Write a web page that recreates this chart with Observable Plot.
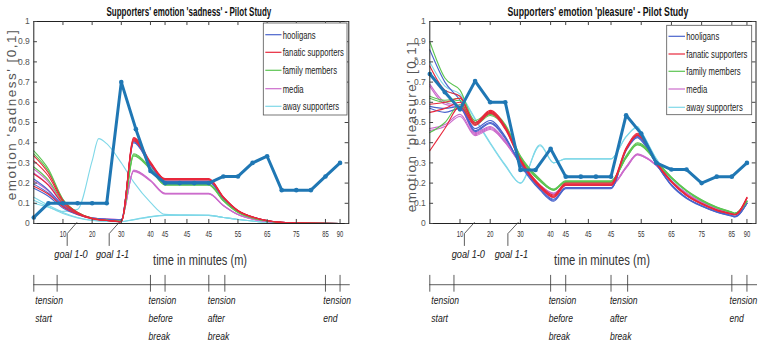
<!DOCTYPE html>
<html><head><meta charset="utf-8">
<script src="https://cdn.jsdelivr.net/npm/d3@7"></script>
<script src="https://cdn.jsdelivr.net/npm/@observablehq/plot@0.6"></script>
<style>
html,body{margin:0;padding:0;background:#fff}
body{width:760px;height:347px;overflow:hidden;position:relative;font-family:"Liberation Sans",Arial,sans-serif}
.panel{position:absolute;top:0;width:380px;height:347px}
</style></head><body>
<div id="left" class="panel" style="left:0"></div>
<div id="right" class="panel" style="left:380px"></div>
<script>
// ---------------- categories & labels ----------------
const groups = ["hooligans","fanatic supporters","family members","media","away supporters"];
const groupColors = ["#4a64cc","#e8283c","#5cc452","#cc6ccc","#7fd8e8"];
const steps = [0,1,2,3,4,5,6,7,8,9,10,11,12,13,14,15,16,17,18,19,20,21];
const tickIdx = [2,4,6,8,9,10.5,12,14,16,18,20,21];
const tickLabels = ["10","20","30","40","45","45","45","55","65","75","85","90"];
const yTicks = [0,0.1,0.2,0.3,0.4,0.5,0.6,0.7,0.8,0.9,1];
const goalIdx = [2.55,5.4];
const goalLabels = ["goal 1-0","goal 1-1"];
const goalFrom = [2.29,5.17];
const goalTo = [2.95,5.85];
const phaseTicks = [0,1.6,8,9,12,13.1,20,21];
const phaseIdx = [0.1,7.87,11.93,19.85];
const phaseLabels = [["tension","start"],["tension","before","break"],["tension","after","break"],["tension","end"]];
const xLabel = "time in minutes (m)";

// ---------------- sadness panel data ----------------
const sadX = [0,1,2,3,4,4.45,5,6,6.85,8,9,12,13,14,15,16,17,18,21];
const sadSeries = [
  ["away supporters",[0.1,0.08,0.06,0.07,0.31,0.42,0.395,0.3,0.205,0.105,0.045,0.04,0.03,0.02,0.012,0.006,0.003,0.001,0]],
  ["away supporters",[0.13,0.09,0.055,0.03,0.016,0.013,0.011,0.01,0.02,0.034,0.04,0.04,0.03,0.02,0.012,0.006,0.003,0.001,0]],
  ["away supporters",[0.115,0.083,0.05,0.028,0.015,0.012,0.01,0.009,0.018,0.033,0.04,0.04,0.03,0.02,0.012,0.006,0.003,0.001,0]],
  ["media",[0.27,0.205,0.1,0.05,0.027,0.024,0.022,0.02,0.265,0.215,0.15,0.15,0.09,0.045,0.022,0.01,0.004,0.001,0]],
  ["media",[0.25,0.19,0.095,0.048,0.027,0.024,0.022,0.02,0.262,0.212,0.148,0.148,0.089,0.044,0.022,0.01,0.004,0.001,0]],
  ["media",[0.21,0.16,0.087,0.046,0.026,0.023,0.022,0.02,0.258,0.21,0.146,0.146,0.088,0.044,0.021,0.01,0.004,0.001,0]],
  ["hooligans",[0.22,0.165,0.09,0.05,0.028,0.024,0.021,0.017,0.41,0.295,0.21,0.21,0.125,0.062,0.032,0.014,0.006,0.002,0]],
  ["hooligans",[0.195,0.15,0.083,0.046,0.026,0.022,0.02,0.017,0.405,0.29,0.208,0.208,0.124,0.061,0.031,0.014,0.006,0.002,0]],
  ["hooligans",[0.175,0.135,0.076,0.043,0.025,0.021,0.019,0.017,0.4,0.288,0.205,0.205,0.122,0.06,0.03,0.013,0.005,0.002,0]],
  ["family members",[0.36,0.27,0.12,0.056,0.026,0.02,0.016,0.011,0.345,0.275,0.195,0.195,0.115,0.056,0.028,0.012,0.005,0.002,0]],
  ["family members",[0.345,0.26,0.117,0.055,0.026,0.02,0.016,0.011,0.34,0.27,0.192,0.192,0.113,0.055,0.027,0.012,0.005,0.002,0]],
  ["family members",[0.28,0.215,0.105,0.052,0.025,0.02,0.016,0.011,0.335,0.268,0.19,0.19,0.112,0.054,0.027,0.012,0.005,0.002,0]],
  ["fanatic supporters",[0.335,0.25,0.115,0.055,0.026,0.02,0.016,0.009,0.425,0.305,0.222,0.222,0.132,0.065,0.033,0.015,0.006,0.002,0]],
  ["fanatic supporters",[0.31,0.235,0.11,0.053,0.025,0.019,0.015,0.009,0.42,0.3,0.22,0.22,0.13,0.064,0.032,0.015,0.006,0.002,0]],
  ["fanatic supporters",[0.245,0.19,0.098,0.05,0.024,0.019,0.015,0.009,0.415,0.298,0.218,0.218,0.129,0.063,0.032,0.014,0.006,0.002,0]],
  ["fanatic supporters",[0.185,0.145,0.083,0.046,0.023,0.018,0.015,0.009,0.41,0.295,0.216,0.216,0.128,0.062,0.031,0.014,0.006,0.002,0]]
];
const sadBlue = [0.03,0.1,0.1,0.1,0.1,0.1,0.7,0.467,0.26,0.2,0.2,0.2,0.2,0.233,0.233,0.3,0.333,0.165,0.165,0.165,0.233,0.3];

// ---------------- pleasure panel data ----------------
const plX = [0,1,2,3,4,5,6,7.3,8.2,9,12,13,13.75,14,15,16,17,18,19,20,20.2,21];
const plSeries = [
  ["away supporters",[0.8,0.68,0.64,0.52,0.4,0.29,0.2,0.39,0.3,0.32,0.32,0.43,0.48,0.455,0.32,0.215,0.15,0.105,0.072,0.05,0.046,0.11]],
  ["away supporters",[0.75,0.66,0.63,0.515,0.395,0.285,0.2,0.385,0.3,0.32,0.32,0.43,0.475,0.45,0.32,0.215,0.15,0.105,0.072,0.05,0.046,0.11]],
  ["media",[0.69,0.6,0.58,0.45,0.48,0.41,0.3,0.19,0.15,0.19,0.19,0.28,0.345,0.34,0.29,0.21,0.15,0.105,0.072,0.05,0.046,0.1]],
  ["media",[0.68,0.59,0.575,0.445,0.475,0.405,0.3,0.19,0.15,0.19,0.19,0.28,0.343,0.338,0.288,0.21,0.15,0.105,0.072,0.05,0.046,0.1]],
  ["media",[0.47,0.49,0.54,0.44,0.47,0.4,0.295,0.185,0.145,0.188,0.188,0.275,0.34,0.335,0.287,0.208,0.148,0.104,0.071,0.049,0.045,0.1]],
  ["media",[0.46,0.48,0.53,0.435,0.465,0.4,0.295,0.185,0.145,0.188,0.188,0.275,0.34,0.335,0.287,0.208,0.148,0.104,0.071,0.049,0.045,0.1]],
  ["hooligans",[0.86,0.7,0.61,0.47,0.51,0.43,0.29,0.165,0.11,0.172,0.172,0.37,0.435,0.42,0.295,0.188,0.124,0.085,0.056,0.036,0.032,0.1]],
  ["hooligans",[0.58,0.57,0.58,0.46,0.5,0.425,0.295,0.17,0.115,0.175,0.175,0.365,0.43,0.415,0.295,0.19,0.126,0.087,0.057,0.038,0.034,0.1]],
  ["hooligans",[0.57,0.55,0.57,0.455,0.495,0.42,0.3,0.175,0.12,0.178,0.178,0.36,0.425,0.41,0.295,0.192,0.128,0.089,0.059,0.04,0.036,0.1]],
  ["family members",[0.9,0.72,0.66,0.51,0.55,0.49,0.335,0.22,0.17,0.212,0.212,0.335,0.4,0.395,0.31,0.23,0.165,0.118,0.082,0.057,0.052,0.11]],
  ["family members",[0.63,0.61,0.62,0.5,0.545,0.485,0.33,0.215,0.168,0.208,0.208,0.33,0.395,0.39,0.31,0.228,0.163,0.115,0.08,0.055,0.05,0.11]],
  ["family members",[0.62,0.6,0.61,0.5,0.54,0.48,0.325,0.21,0.165,0.205,0.205,0.325,0.39,0.385,0.305,0.225,0.16,0.112,0.078,0.054,0.049,0.11]],
  ["family members",[0.45,0.5,0.59,0.49,0.535,0.475,0.325,0.21,0.165,0.205,0.205,0.325,0.39,0.385,0.305,0.225,0.16,0.112,0.078,0.054,0.049,0.11]],
  ["fanatic supporters",[0.78,0.66,0.63,0.5,0.56,0.48,0.32,0.19,0.14,0.2,0.2,0.375,0.447,0.435,0.305,0.21,0.143,0.1,0.068,0.048,0.045,0.13]],
  ["fanatic supporters",[0.59,0.6,0.62,0.495,0.555,0.475,0.315,0.185,0.135,0.195,0.195,0.37,0.442,0.43,0.3,0.208,0.14,0.098,0.066,0.047,0.044,0.128]],
  ["fanatic supporters",[0.55,0.57,0.6,0.49,0.55,0.47,0.31,0.18,0.13,0.19,0.19,0.365,0.437,0.425,0.3,0.205,0.138,0.096,0.065,0.046,0.043,0.125]],
  ["fanatic supporters",[0.36,0.47,0.58,0.485,0.545,0.465,0.31,0.18,0.13,0.19,0.19,0.365,0.437,0.425,0.3,0.205,0.138,0.096,0.065,0.046,0.043,0.125]]
];
const plBlue = [0.74,0.65,0.565,0.705,0.6,0.6,0.265,0.265,0.37,0.232,0.232,0.232,0.232,0.536,0.445,0.3,0.267,0.267,0.2,0.232,0.232,0.3];

// ---------------- layout (positions / styles only) ----------------
const FONT = "'Liberation Sans', Arial, sans-serif";
const Y_GOAL = -0.153, Y_PTR_LO = -0.109, Y_PTR_HI = -0.05, Y_PTR_END = 0.005;
const Y_XLABEL = -0.183, Y_TL = -0.303, Y_TL_T1 = -0.257, Y_TL_T2 = -0.34;
const Y_PHASE = [-0.381,-0.472,-0.559];
const X_MAX = 21.6, X_TL_END = 21.7;
const MAIN = "#1f77b4";

const panels = [
  {el:"#left", title:"Supporters' emotion 'sadness' - Pilot Study", ylabel:"emotion 'sadness' [0,1]",
   xs:sadX, series:sadSeries, blue:sadBlue, ml:33.3, mr:31.7, yPad:4,
   titleDx:-2.4, titleLen:165, ylabDx:-22.5, ylabDy:-8, ylabLen:170, xlabLen:94,
   legend:{x:263.3, y:23, w:83.7, h:92, lx1:265.3, lx2:281.5, tx:282.7, rows:[34.7,52.3,70.3,88.7,106.3]}},
  {el:"#right", title:"Supporters' emotion 'pleasure' - Pilot Study", ylabel:"emotion 'pleasure' [0,1]",
   xs:plX, series:plSeries, blue:plBlue, ml:49.3, mr:4.5, yPad:4,
   titleDx:5, titleLen:181, ylabDx:-18.5, ylabDy:4, ylabLen:170, xlabLen:96,
   legend:{x:286.7, y:25.3, w:85, h:89.4, lx1:288.5, lx2:305, tx:306.3, rows:[36.3,54,71.3,89,107.3]}}
];

// horizontally compress text around its own anchor point (narrow-font look)
function condense(svg, sel, opt){
  d3.select(svg).selectAll(sel).each(function(){
    const L = this.getComputedTextLength();
    if (!(L > 0)) return;
    const r = opt.target != null ? opt.target / L : opt.ratio;
    const x = +this.getAttribute("x") || 0;
    const t = this.getAttribute("transform") || "";
    this.setAttribute("transform", `${t} translate(${x},0) scale(${r},1) translate(${-x},0)`);
  });
}
function spread(svg, sel, target){
  d3.select(svg).selectAll(sel).each(function(){
    const L = this.getComputedTextLength();
    const n = this.textContent.length;
    if (L > 0 && n > 1) this.setAttribute("letter-spacing", ((target - L) / (n - 1)).toFixed(2));
  });
}

function drawPanel(cfg){
  const rows = [];
  cfg.series.forEach(([g, vals], k) => vals.forEach((v, i) => rows.push({x: cfg.xs[i], y: v, id: k, g})));
  const main = cfg.blue.map((v, i) => ({x: steps[i], y: v}));
  const ptrRows = [];
  goalFrom.forEach((f, k) => {
    ptrRows.push({k, x: f, y: Y_PTR_LO}, {k, x: f, y: Y_PTR_HI}, {k, x: goalTo[k], y: Y_PTR_END});
  });
  const phaseRows = [];
  phaseLabels.forEach((lines, k) => lines.forEach((t, j) => phaseRows.push({x: phaseIdx[k], y: Y_PHASE[j], t})));

  const svg = Plot.plot({
    width: 380, height: 347,
    marginLeft: cfg.ml, marginRight: cfg.mr, marginTop: 21, marginBottom: 124,
    x: {domain: [0, X_MAX]},
    y: {domain: [0, 1]},
    color: {domain: groups, range: groupColors},
    style: {fontFamily: FONT, background: "transparent", overflow: "visible"},
    marks: [
      Plot.line(rows, {x: "x", y: "y", z: "id", stroke: "g", strokeWidth: 1.1, curve: "monotone-x"}),
      Plot.line(main, {x: "x", y: "y", stroke: MAIN, strokeWidth: 3}),
      Plot.dot(main, {x: "x", y: "y", r: 2.3, fill: MAIN, stroke: null}),
      Plot.frame({stroke: "#222", strokeWidth: 1}),
      Plot.ruleX(tickIdx, {y1: 0, y2: 0.02, stroke: "#444"}),
      Plot.ruleX(tickIdx, {y1: 1, y2: 0.98, stroke: "#444"}),
      Plot.ruleY(yTicks, {x1: 0, x2: 0.25, stroke: "#444"}),
      Plot.ruleY(yTicks, {x1: X_MAX, x2: X_MAX - 0.25, stroke: "#444"}),
      Plot.axisX({ticks: tickIdx, tickSize: 0, tickPadding: 7, fontSize: 9, fill: "#333", label: null,
                  tickFormat: d => tickLabels[tickIdx.indexOf(d)]}),
      Plot.axisY({ticks: yTicks, tickSize: 0, tickPadding: cfg.yPad, fontSize: 8.5, fill: "#555", label: null,
                  tickFormat: d => (d === 0 || d === 1) ? String(d) : d.toFixed(1)}),
      Plot.text([cfg.title], {frameAnchor: "top", lineAnchor: "middle", textAnchor: "middle", dx: cfg.titleDx, dy: -9.5,
                  fontWeight: "bold", fontSize: 12, fill: "#111", ariaDescription: "ttl"}),
      Plot.text([cfg.ylabel], {frameAnchor: "left", textAnchor: "middle", lineAnchor: "middle", rotate: -90, dx: cfg.ylabDx, dy: cfg.ylabDy,
                  fontSize: 13.5, fill: "#555", ariaDescription: "ylab"}),
      Plot.text([xLabel], {x: 11.4, y: Y_XLABEL, fontSize: 14, fill: "#333", ariaDescription: "xlab"}),
      Plot.line(ptrRows, {x: "x", y: "y", z: "k", stroke: "#333", strokeWidth: 0.8}),
      Plot.text(goalLabels, {x: (d, i) => goalIdx[i], y: Y_GOAL, fontSize: 11, fontStyle: "italic", fill: "#222", ariaDescription: "goal"}),
      Plot.ruleY([Y_TL], {x1: 0, x2: X_TL_END, stroke: "#333", strokeWidth: 0.8}),
      Plot.ruleX(phaseTicks, {y1: Y_TL_T1, y2: Y_TL_T2, stroke: "#333", strokeWidth: 0.8}),
      Plot.text(phaseRows, {x: "x", y: "y", text: "t", textAnchor: "start", fontSize: 11, fontStyle: "italic", fill: "#222", ariaDescription: "phase"})
    ]
  });
  const host = document.querySelector(cfg.el);
  host.appendChild(svg);

  // legend
  const L = cfg.legend;
  const lg = d3.select(svg).append("g").attr("font-family", FONT).attr("font-size", 11).attr("text-anchor", "start");
  lg.append("rect").attr("x", L.x).attr("y", L.y).attr("width", L.w).attr("height", L.h)
    .attr("fill", "#fff").attr("stroke", "#555").attr("stroke-width", 0.8);
  groups.forEach((g, i) => {
    lg.append("line").attr("x1", L.lx1).attr("x2", L.lx2).attr("y1", L.rows[i]).attr("y2", L.rows[i])
      .attr("stroke", groupColors[i]).attr("stroke-width", 1.2);
    lg.append("text").attr("class", "lgt").attr("x", L.tx).attr("y", L.rows[i]).attr("dy", "0.35em")
      .attr("text-anchor", "start").attr("fill", "#222").text(g);
  });

  condense(svg, 'g[aria-description="ttl"] text', {target: cfg.titleLen});
  spread(svg, 'g[aria-description="ylab"] text', cfg.ylabLen);
  condense(svg, 'g[aria-description="xlab"] text', {target: cfg.xlabLen});
  condense(svg, 'g[aria-description="goal"] text', {ratio: 0.84});
  condense(svg, 'g[aria-description="phase"] text', {ratio: 0.78});
  condense(svg, 'g[aria-label="x-axis tick label"] text', {ratio: 0.65});
  condense(svg, 'text.lgt', {ratio: 0.7});
}

panels.forEach(drawPanel);
</script>
</body></html>
